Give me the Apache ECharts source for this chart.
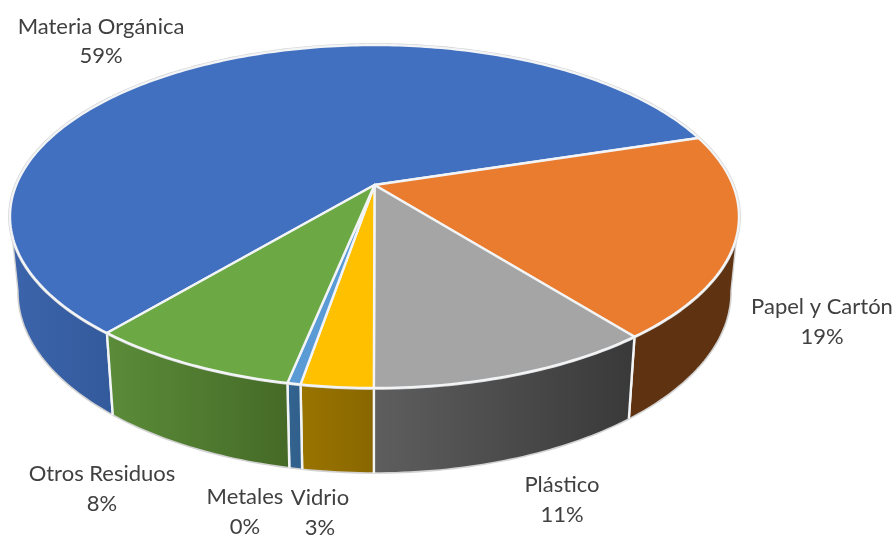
<!DOCTYPE html>
<html><head><meta charset="utf-8">
<style>html,body{margin:0;padding:0;background:#fff}#c{width:895px;height:536px}</style>
<script src="https://cdn.jsdelivr.net/npm/echarts@6/dist/echarts.min.js"></script>
</head><body><div id="c"></div>
<script>
const categories = ['Materia Orgánica','Papel y Cartón','Plástico','Vidrio','Metales','Otros Residuos'];
const shares = [59.08, 19.17, 10.69, 2.68, 0.49, 7.89];

const topColors = ['#4270c0','#ea7c30','#a5a5a5','#ffc000','#5b9bd5','#6ca945'];
const wallColors = [['#3c64ab','#335a9b'],['#5f3312','#5f3312'],['#5e5e5e','#393939'],['#9a7400','#896700'],['#33648f','#2f5f8a'],['#5b8c39','#456a27']];
const labelCentres = [[101,41.5],[822,322],[562,500],[102,489],[245,512],[320,513]];
const labelOrder = [0,1,2,5,4,3];

const START = -140.1, LEAD = 0.1837;
const TOP = {cx:374.5, cy:185, a:358.3, b:165.7};
const BOT = {cx:374.5, cy:259, a:350.5, b:174.7};
const total = shares.reduce((s,v)=>s+v,0);
function project(deg, p){
  const t = deg*Math.PI/180, X = Math.sin(t), d = -Math.cos(t), w = 1-LEAD*d;
  return [p.cx+p.a*X/w, p.cy+p.b*d/w];
}
function arc(a0,a1,p){
  const pts=[], n=Math.max(2,Math.ceil(Math.abs(a1-a0)));
  for(let i=0;i<=n;i++) pts.push(project(a0+(a1-a0)*i/n,p));
  return pts;
}
function range(idx){
  let s=START; for(let i=0;i<idx;i++) s+=shares[i]/total*360;
  return [s,s+shares[idx]/total*360];
}
const WRAP_MIN=100, WRAP_MAX=260;
function wallRange(idx){
  let [a0,a1]=range(idx);
  if(a1<WRAP_MIN){a0+=360;a1+=360;}
  if(a0>WRAP_MAX){a0-=360;a1-=360;}
  return [Math.max(a0,WRAP_MIN),Math.min(a1,WRAP_MAX)];
}
function renderWall(params,api){
  const idx=api.value(1); const [a0,a1]=wallRange(idx);
  if(a1<=a0) return {type:'group',children:[]};
  const topArc=arc(a0,a1,TOP), botArc=arc(a0,a1,BOT);
  const poly=topArc.concat(botArc.slice().reverse());
  const xs=poly.map(p=>p[0]); const x0=Math.min(...xs), x1=Math.max(...xs);
  const kids=[{type:'polygon',shape:{points:poly},style:{
    fill:{type:'linear',x:x0,y:0,x2:x1,y2:0,global:true,colorStops:[{offset:0,color:wallColors[idx][0]},{offset:1,color:wallColors[idx][1]}]},stroke:null}}];
  kids.push({type:'polyline',shape:{points:botArc},style:{fill:null,stroke:'#d2d2d2',lineWidth:1.6}});
  const [r0,r1]=range(idx);
  [[a0,r0],[a1,r1]].forEach(([a,r])=>{
    const real=Math.abs(a-r)<1e-6||Math.abs(a-r-360)<1e-6||Math.abs(a-r+360)<1e-6;
    kids.push({type:'line',shape:{x1:project(a,TOP)[0],y1:project(a,TOP)[1],x2:project(a,BOT)[0],y2:project(a,BOT)[1]},
      style:real?{stroke:'#f2f4f6',lineWidth:2.4}:{stroke:'#d2d2d2',lineWidth:1.4}});
  });
  return {type:'group',children:kids};
}
function renderTop(params,api){
  const idx=api.value(1); const [a0,a1]=range(idx);
  const rim=arc(a0,a1,TOP);
  const centre=[TOP.cx,TOP.cy];
  return {type:'group',children:[
    {type:'polyline',shape:{points:rim},style:{fill:null,stroke:'#d2d2d2',lineWidth:3.6}},
    {type:'polygon',shape:{points:[centre].concat(rim)},style:{fill:topColors[idx],stroke:'#f2f4f6',lineWidth:2.4,lineJoin:'round'}}
  ]};
}
const rows=shares.map((v,i)=>[v,i]);
const chart=echarts.init(document.getElementById('c'),null,{renderer:'canvas'});
chart.setOption({
  animation:false,
  backgroundColor:'#ffffff',
  graphic:{elements:labelOrder.map((idx,j)=>({
    type:'text',z:10,
    style:{x:labelCentres[j][0],y:labelCentres[j][1],align:'center',verticalAlign:'middle',
      text:categories[idx]+'\n'+Math.round(shares[idx])+'%',
      fontFamily:'Lato',fontSize:22,lineHeight:29.5,fill:'#404040'}
  }))},
  series:[
    {type:'custom',coordinateSystem:'none',z:1,data:rows,renderItem:renderWall,silent:true},
    {type:'custom',coordinateSystem:'none',z:2,data:rows,renderItem:renderTop,silent:true}
  ]
});
</script></body></html>
